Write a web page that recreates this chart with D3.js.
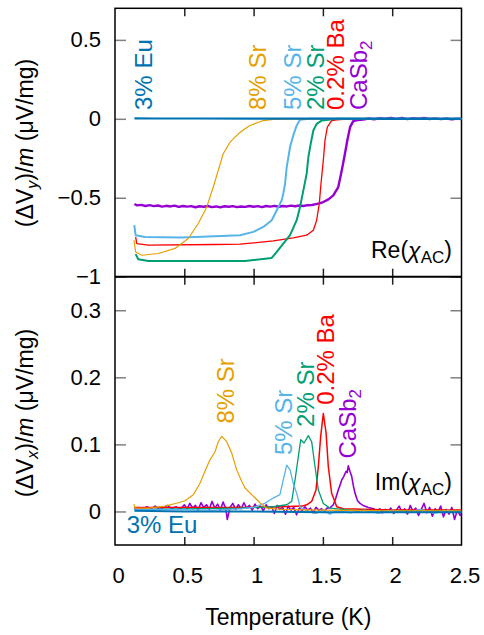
<!DOCTYPE html>
<html>
<head>
<meta charset="utf-8">
<script src="https://cdn.jsdelivr.net/npm/d3@7"></script>
<style>
body { margin: 0; background: #fff; }
text { font-family: "Liberation Sans", Arial, Helvetica, sans-serif; }
</style>
</head>
<body>
<svg id="chart"></svg>
<script>
// ====================================================================
// data: [temperature (K), value (uV/mg)]
// ====================================================================

var x_ticks = [0, 0.5, 1, 1.5, 2, 2.5];
var re_ticks = [-1, -0.5, 0, 0.5];
var im_ticks = [0, 0.1, 0.2, 0.3];

// --- Re(chi_AC), top panel
var re_eu3 = [[0.14,0.003],[0.3,0.002],[0.6,0.002],[1.0,0.001],[1.5,0.001],[2.0,0.0],[2.5,0.0]];

var re_sr8 = [[0.137,-0.769],[0.149,-0.843],[0.193,-0.864],[0.312,-0.853],[0.433,-0.821],
  [0.529,-0.758],[0.601,-0.663],[0.662,-0.558],[0.709,-0.432],[0.745,-0.327],[0.781,-0.221],
  [0.830,-0.148],[0.890,-0.095],[0.938,-0.063],[0.974,-0.042],[1.070,-0.011],[1.142,-0.004],
  [1.25,0.0],[2.5,0.0]];

var re_sr5 = [[0.139,-0.674],[0.149,-0.737],[0.216,-0.748],[0.481,-0.752],[0.722,-0.744],
  [0.902,-0.737],[0.998,-0.716],[1.070,-0.685],[1.131,-0.642],[1.167,-0.579],[1.203,-0.516],
  [1.215,-0.47],[1.227,-0.411],[1.239,-0.306],[1.263,-0.179],[1.286,-0.105],[1.311,-0.042],
  [1.335,-0.006],[1.4,0.0],[2.5,0.0]];

var re_sr2 = [[0.149,-0.857],[0.168,-0.889],[0.240,-0.900],[0.938,-0.900],[1.131,-0.881],
  [1.167,-0.843],[1.214,-0.790],[1.263,-0.737],[1.311,-0.642],[1.335,-0.558],[1.359,-0.453],
  [1.383,-0.347],[1.395,-0.243],[1.412,-0.158],[1.431,-0.074],[1.455,-0.032],[1.491,-0.011],
  [1.539,-0.006],[1.6,0.0],[2.5,0.0]];

var re_ba02 = [[0.149,-0.748],[0.157,-0.790],[0.240,-0.800],[0.722,-0.796],[0.902,-0.794],
  [1.142,-0.773],[1.286,-0.754],[1.383,-0.737],[1.431,-0.706],[1.455,-0.642],[1.474,-0.537],
  [1.486,-0.411],[1.503,-0.263],[1.515,-0.137],[1.532,-0.053],[1.563,-0.011],[1.600,-0.006],
  [1.7,0.0],[2.5,0.0]];

var re_ca = [[0.14,-0.541],[0.16,-0.548],[0.19,-0.545],[0.22,-0.552],[0.25,-0.547],[0.28,-0.553],
  [0.31,-0.549],[0.34,-0.556],[0.37,-0.551],[0.40,-0.555],[0.43,-0.550],[0.46,-0.558],[0.49,-0.552],
  [0.52,-0.556],[0.55,-0.553],[0.58,-0.560],[0.61,-0.554],[0.64,-0.557],[0.67,-0.552],[0.70,-0.559],
  [0.73,-0.555],[0.76,-0.561],[0.79,-0.554],[0.82,-0.557],[0.85,-0.553],[0.88,-0.559],[0.91,-0.555],
  [0.94,-0.558],[0.97,-0.552],[1.00,-0.557],[1.03,-0.553],[1.06,-0.559],[1.09,-0.552],[1.12,-0.556],
  [1.15,-0.551],[1.18,-0.557],[1.21,-0.552],[1.24,-0.555],[1.27,-0.550],[1.30,-0.554],[1.33,-0.549],
  [1.36,-0.552],[1.39,-0.547],[1.42,-0.546],[1.45,-0.540],[1.48,-0.534],[1.503,-0.527],[1.54,-0.510],
  [1.575,-0.485],[1.611,-0.432],[1.636,-0.327],[1.659,-0.221],[1.676,-0.137],[1.696,-0.053],
  [1.719,-0.015],[1.75,-0.008],[1.791,-0.004],[1.83,0.002],[1.87,-0.003],[1.91,0.004],[1.95,0.001],
  [1.99,0.006],[2.03,0.000],[2.07,0.005],[2.11,-0.002],[2.15,0.004],[2.19,0.001],[2.23,0.005],
  [2.27,-0.001],[2.31,0.003],[2.35,-0.002],[2.39,0.002],[2.43,-0.003],[2.47,0.001],[2.5,-0.002]];

// --- Im(chi_AC), bottom panel
var im_eu3 = [[0.14,0.001],[0.5,0.0],[1.0,0.0],[1.5,-0.001],[2.0,-0.001],[2.5,-0.001]];

var im_sr8 = [[0.137,0.011],[0.144,0.005],[0.240,0.005],[0.361,0.008],[0.457,0.013],[0.505,0.016],
  [0.565,0.025],[0.613,0.042],[0.649,0.060],[0.685,0.077],[0.722,0.089],[0.745,0.104],[0.770,0.112],
  [0.806,0.104],[0.842,0.087],[0.878,0.062],[0.914,0.045],[0.938,0.035],[0.986,0.025],[1.046,0.013],
  [1.094,0.005],[1.2,0.003],[1.5,0.002],[2.0,0.001],[2.5,0.001]];

var im_sr5 = [[0.14,0.003],[0.4,0.003],[0.7,0.002],[0.9,0.004],[1.0,0.006],[1.08,0.012],[1.142,0.020],
  [1.19,0.025],[1.214,0.047],[1.239,0.069],[1.263,0.062],[1.286,0.042],[1.311,0.027],[1.335,0.007],
  [1.38,0.001],[1.45,-0.003],[1.5,0.002],[1.55,-0.004],[1.6,0.001],[1.7,-0.002],[1.8,0.002],
  [1.9,-0.003],[2.0,0.002],[2.1,-0.002],[2.2,0.003],[2.3,-0.003],[2.4,0.002],[2.5,-0.002]];

var im_sr2 = [[0.14,0.003],[0.5,0.004],[0.9,0.005],[1.142,0.007],[1.239,0.010],[1.275,0.015],
  [1.299,0.047],[1.323,0.082],[1.340,0.107],[1.364,0.102],[1.395,0.113],[1.419,0.104],[1.443,0.067],
  [1.467,0.032],[1.503,0.012],[1.551,0.005],[1.7,0.002],[2.0,0.001],[2.5,0.001]];

var im_ba02 = [[0.14,0.006],[0.5,0.006],[0.9,0.006],[1.2,0.007],[1.35,0.008],[1.383,0.010],
  [1.419,0.015],[1.450,0.032],[1.467,0.067],[1.484,0.112],[1.503,0.146],[1.523,0.117],[1.539,0.067],
  [1.563,0.027],[1.600,0.007],[1.647,0.004],[2.0,0.002],[2.5,0.002]];

var im_ca = [[0.14,0.004],[0.17,0.006],[0.20,0.003],[0.23,0.007],[0.26,0.004],[0.29,0.008],[0.32,0.003],
  [0.35,0.006],[0.38,0.009],[0.41,0.004],[0.44,0.007],[0.47,0.003],[0.50,0.010],[0.52,0.004],[0.54,0.012],
  [0.56,0.005],[0.58,0.009],[0.60,0.002],[0.62,0.013],[0.64,0.006],[0.66,0.010],[0.68,0.003],[0.70,0.015],
  [0.72,0.005],[0.74,0.011],[0.76,0.002],[0.78,0.014],[0.80,0.004],[0.81,-0.012],[0.83,0.006],[0.85,0.012],
  [0.87,0.003],[0.89,0.010],[0.91,0.004],[0.93,0.013],[0.95,0.005],[0.97,0.009],[0.99,0.002],[1.01,0.011],
  [1.03,0.004],[1.05,0.008],[1.07,0.001],[1.09,0.010],[1.11,0.004],[1.13,0.007],[1.15,-0.003],[1.17,0.009],
  [1.19,0.003],[1.21,0.006],[1.23,-0.004],[1.25,0.008],[1.27,0.002],[1.29,0.006],[1.31,-0.005],[1.33,0.005],
  [1.35,0.001],[1.37,0.007],[1.39,0.002],[1.41,0.005],[1.43,-0.002],[1.45,0.006],[1.47,0.002],[1.49,0.004],
  [1.51,0.000],[1.53,0.005],[1.555,0.006],[1.575,0.010],[1.59,0.018],[1.611,0.032],[1.625,0.040],
  [1.636,0.047],[1.65,0.052],[1.667,0.060],[1.675,0.058],[1.683,0.068],[1.695,0.060],[1.708,0.052],
  [1.72,0.038],[1.732,0.027],[1.75,0.016],[1.768,0.012],[1.79,0.009],[1.828,0.006],[1.864,0.004],
  [1.89,0.001],[1.91,0.004],[1.93,-0.002],[1.95,0.003],[1.97,0.000],[1.99,0.005],[2.01,-0.003],
  [2.03,0.002],[2.05,0.008],[2.07,-0.001],[2.09,0.004],[2.11,-0.004],[2.13,0.009],[2.15,0.000],
  [2.17,0.005],[2.19,-0.006],[2.21,0.003],[2.23,0.012],[2.25,-0.002],[2.27,0.006],[2.29,-0.007],
  [2.31,0.004],[2.33,-0.001],[2.35,0.008],[2.37,-0.008],[2.39,0.003],[2.41,-0.004],[2.43,0.006],
  [2.45,-0.012],[2.47,0.002],[2.49,-0.006],[2.5,0.001]];

// ====================================================================
// globals
var col_eu = "#0072B2", col_sr8 = "#E69F00", col_sr5 = "#56B4E9",
    col_sr2 = "#009E73", col_ba = "#FF0000", col_ca = "#9400D3";
var str_tick_color = "#808080";
var int_tick_font = 22;
var int_lbl_font = 24;
// ====================================================================

var svg = d3.select("#chart").attr("width", 484).attr("height", 635);

var left = 115, right = 461.5, top1 = 8.3, mid = 276.7, bot2 = 545;

var x = d3.scaleLinear().domain([0, 2.5]).range([left, right]);
var y_re = d3.scaleLinear().domain([-1, 0.7]).range([mid, top1]);
var y_im = d3.scaleLinear().domain([-0.05, 0.35]).range([bot2, mid]);

// ====================================================================
// axes
function fn_y_axes(y, ticks, labels) {
  var gl = svg.append("g").attr("transform", "translate(" + left + ",0)")
    .call(d3.axisLeft(y).tickValues(ticks).tickSize(-11).tickPadding(14)
      .tickFormat(function(d) { return labels ? d3.format("")(d).replace("-", "\u2212") : ""; }));
  gl.select(".domain").remove();
  gl.selectAll(".tick line").attr("stroke", str_tick_color).attr("stroke-width", 1.5);
  gl.selectAll(".tick text").attr("fill", "#000").style("font-size", int_tick_font + "px")
    .attr("font-family", null);

  var gr = svg.append("g").attr("transform", "translate(" + right + ",0)")
    .call(d3.axisRight(y).tickValues(ticks).tickSize(-11).tickFormat(""));
  gr.select(".domain").remove();
  gr.selectAll(".tick line").attr("stroke", str_tick_color).attr("stroke-width", 1.5);
}

// top panel: no -1 label on tick line? (it is labelled in the figure)
fn_y_axes(y_re, re_ticks, true);
fn_y_axes(y_im, im_ticks, true);

// x ticks, inward on every horizontal frame line
function fn_x_ticks(ypos, size, labels) {
  var ax = (size < 0 ? d3.axisBottom(x) : d3.axisTop(x));
  var g = svg.append("g").attr("transform", "translate(0," + ypos + ")")
    .call(ax.tickValues(x_ticks.slice(1, 5)).tickSize(Math.abs(size)).tickFormat(""));
  g.select(".domain").remove();
  g.selectAll(".tick line").attr("stroke", "#222").attr("stroke-width", 1.5);
}
fn_x_ticks(top1, -8);
fn_x_ticks(mid, 8);
fn_x_ticks(mid, -8);
fn_x_ticks(bot2, 8);

var gx = svg.append("g").attr("transform", "translate(0," + bot2 + ")")
  .call(d3.axisBottom(x).tickValues(x_ticks).tickSize(0).tickPadding(22)
    .tickFormat(d3.format("")));
gx.select(".domain").remove();
gx.selectAll(".tick text").attr("fill", "#000").attr("dx", 3)
  .style("font-size", int_tick_font + "px").attr("font-family", null);

// frames
svg.append("rect").attr("x", left).attr("y", top1).attr("width", right - left)
  .attr("height", bot2 - top1).attr("fill", "none").attr("stroke", "#000").attr("stroke-width", 1.5);
svg.append("line").attr("x1", left).attr("x2", right).attr("y1", mid).attr("y2", mid)
  .attr("stroke", "#000").attr("stroke-width", 2);

// ====================================================================
// curves
var plot_clip = svg.append("defs");
plot_clip.append("clipPath").attr("id", "clip_re").append("rect")
  .attr("x", left).attr("y", top1).attr("width", right - left).attr("height", mid - top1);
plot_clip.append("clipPath").attr("id", "clip_im").append("rect")
  .attr("x", left).attr("y", mid).attr("width", right - left).attr("height", bot2 - mid);

function fn_curves(y, clip, list) {
  var line = d3.line().x(function(d) { return x(d[0]); }).y(function(d) { return y(d[1]); });
  svg.append("g").attr("clip-path", "url(#" + clip + ")")
    .selectAll("path").data(list).enter().append("path")
    .attr("d", function(d) { return line(d.data); })
    .attr("fill", "none")
    .attr("stroke", function(d) { return d.color; })
    .attr("stroke-width", function(d) { return d.w; })
    .attr("stroke-linejoin", "round");
}

fn_curves(y_re, "clip_re", [
  {data: re_ca, color: col_ca, w: 2.4},
  {data: re_ba02, color: col_ba, w: 1.3},
  {data: re_sr2, color: col_sr2, w: 2},
  {data: re_sr5, color: col_sr5, w: 2},
  {data: re_sr8, color: col_sr8, w: 1.2},
  {data: re_eu3, color: col_eu, w: 2.2}
]);

fn_curves(y_im, "clip_im", [
  {data: im_ca, color: col_ca, w: 1.6},
  {data: im_ba02, color: col_ba, w: 1.5},
  {data: im_sr2, color: col_sr2, w: 1.3},
  {data: im_sr5, color: col_sr5, w: 1.3},
  {data: im_sr8, color: col_sr8, w: 1.2},
  {data: im_eu3, color: col_eu, w: 2}
]);

// ====================================================================
// annotations (positions in data units)
function fn_label(y, d) {
  var t = svg.append("text").attr("fill", d.color).style("font-size", (d.size || int_lbl_font) + "px");
  if (d.rot) {
    t.attr("transform", "translate(" + x(d.t) + "," + y(d.v) + ") rotate(-90)");
  } else {
    t.attr("x", x(d.t)).attr("y", y(d.v)).attr("text-anchor", d.anchor || "start");
  }
  var shifted = false;
  d.parts.forEach(function(p) {
    var s = t.append("tspan").text(p[0]);
    var sub = p[1] === "sub";
    if (p[1] === "i") s.attr("font-style", "italic");
    if (sub) s.style("font-size", Math.round((d.size || int_lbl_font) * 0.72) + "px");
    if (sub && !shifted) { s.attr("dy", 5); shifted = true; }
    if (!sub && shifted) { s.attr("dy", -5); shifted = false; }
  });
}

var re_labels = [
  {parts: [["3% Eu"]], color: col_eu, t: 0.267, v: 0.056, rot: true},
  {parts: [["8% Sr"]], color: col_sr8, t: 1.089, v: 0.056, rot: true},
  {parts: [["5% Sr"]], color: col_sr5, t: 1.342, v: 0.056, rot: true},
  {parts: [["2% Sr"]], color: col_sr2, t: 1.508, v: 0.056, rot: true},
  {parts: [["0.2% Ba"]], color: col_ba, t: 1.652, v: 0.056, rot: true},
  {parts: [["CaSb"], ["2", "sub"]], color: col_ca, t: 1.818, v: 0.056, rot: true},
  {parts: [["Re("], ["\u03C7", "i"], ["AC", "sub"], [")"]], color: "#000", t: 2.431, v: -0.884, anchor: "end", size: 23}
];
re_labels.forEach(function(d) { fn_label(y_re, d); });

var im_labels = [
  {parts: [["8% Sr"]], color: col_sr8, t: 0.859, v: 0.131, rot: true},
  {parts: [["5% Sr"]], color: col_sr5, t: 1.277, v: 0.084, rot: true},
  {parts: [["2% Sr"]], color: col_sr2, t: 1.436, v: 0.126, rot: true},
  {parts: [["0.2% Ba"]], color: col_ba, t: 1.580, v: 0.159, rot: true},
  {parts: [["CaSb"], ["2", "sub"]], color: col_ca, t: 1.739, v: 0.079, rot: true},
  {parts: [["3% Eu"]], color: col_eu, t: 0.084, v: -0.0325},
  {parts: [["Im("], ["\u03C7", "i"], ["AC", "sub"], [")"]], color: "#000", t: 2.431, v: 0.032, anchor: "end", size: 23}
];
im_labels.forEach(function(d) { fn_label(y_im, d); });

// axis titles
function fn_ytitle(cy, sub) {
  var t = svg.append("text").attr("text-anchor", "middle").style("font-size", "23px")
    .attr("transform", "translate(33," + cy + ") rotate(-90)");
  t.append("tspan").text("(\u0394V");
  t.append("tspan").text(sub).attr("font-style", "italic").style("font-size", "16px").attr("dy", 5);
  t.append("tspan").text(")/").attr("dy", -5);
  t.append("tspan").text("m").attr("font-style", "italic");
  t.append("tspan").text(" (\u03BCV/mg)");
}
fn_ytitle(143, "y");
fn_ytitle(413, "x");

svg.append("text").attr("x", (left + right) / 2).attr("y", 625).attr("text-anchor", "middle")
  .style("font-size", "23px").text("Temperature (K)");
</script>
</body>
</html>
